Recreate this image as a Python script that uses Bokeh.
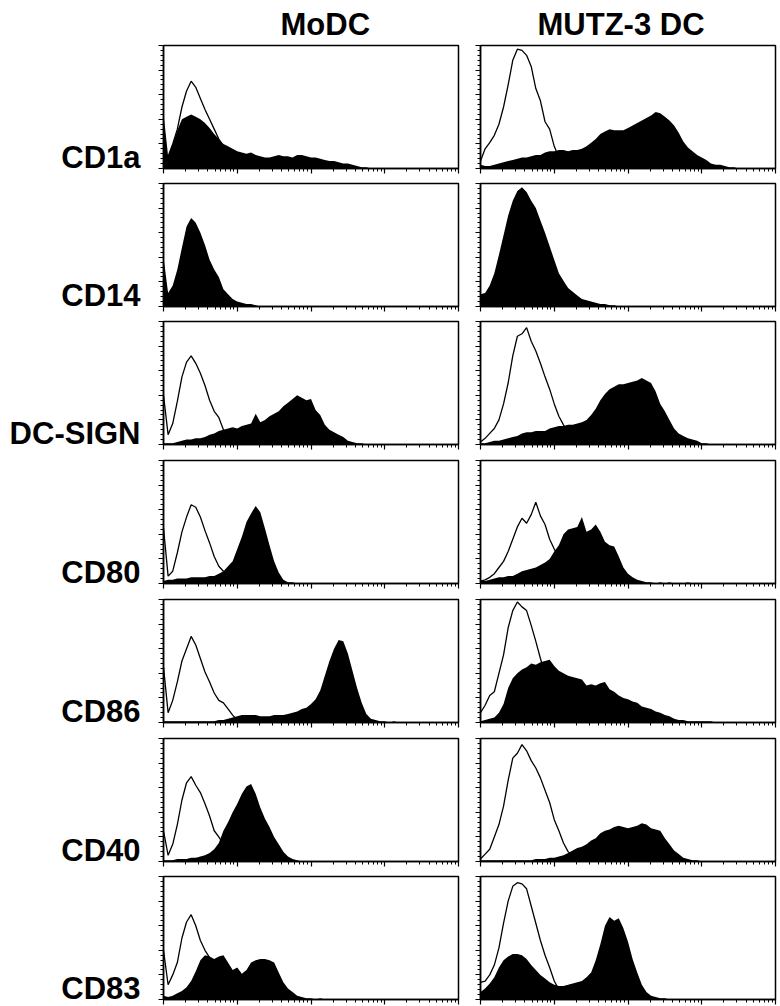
import math
from bokeh.plotting import figure
from bokeh.layouts import column, row
from bokeh.models import FixedTicker, Range1d, CustomJSTickFormatter
from bokeh.core.properties import value
from bokeh.embed import file_html
from bokeh.resources import INLINE

# ---------------- data (channel heights, % of panel height) ----------------
markers = ["CD1a", "CD14", "DC-SIGN", "CD80", "CD86", "CD40", "CD83"]
conditions = ["MoDC", "MUTZ-3 DC"]
decades = 4
bins_per_decade = 16

modc_cd1a_iso = [5, 10, 20, 32, 50, 63, 71, 66, 57, 48, 40, 32, 24, 18, 12, 8, 5, 3, 2, 1, 0]
modc_cd1a_stain = [45, 10, 20, 31, 40, 42, 44, 42, 40, 37, 33, 28, 24, 20, 18, 16, 14, 13, 12, 13, 11, 10, 9, 9, 10,
                   11, 10, 10, 9, 11, 11, 10, 9, 9, 8, 7, 6, 6, 5, 4, 4, 3, 2, 1, 1, 0]
mutz_cd1a_iso = [6, 16, 21, 27, 36, 50, 68, 88, 97, 96, 92, 83, 65, 55, 38, 32, 18, 9, 5, 2, 1, 0]
mutz_cd1a_stain = [3, 2, 2, 3, 4, 5, 6, 7, 8, 9, 9, 10, 11, 11, 13, 14, 14, 15, 15, 14, 15, 15, 16, 18, 21, 24, 28, 30,
                   32, 31, 31, 31, 33, 35, 37, 39, 41, 43, 46, 45, 42, 39, 35, 29, 22, 17, 14, 11, 9, 7, 4, 3, 3, 2, 1,
                   1, 0]

modc_cd14_iso = []
modc_cd14_stain = [40, 11, 17, 30, 48, 65, 72, 68, 60, 50, 38, 30, 24, 14, 10, 6, 4, 3, 2, 2, 1, 0]
mutz_cd14_iso = []
mutz_cd14_stain = [10, 11, 17, 27, 42, 58, 74, 86, 94, 97, 93, 86, 80, 70, 60, 49, 38, 27, 21, 15, 12, 9, 6, 5, 4, 3,
                   2, 2, 1, 1, 0]

modc_dcsign_iso = [40, 8, 17, 35, 55, 67, 72, 66, 58, 48, 36, 27, 22, 12, 8, 4, 2, 0]
modc_dcsign_stain = [1, 1, 1, 2, 3, 4, 4, 5, 5, 6, 8, 9, 11, 12, 13, 14, 13, 15, 16, 17, 25, 18, 20, 23, 25, 27, 31,
                     34, 37, 40, 38, 36, 37, 28, 24, 16, 12, 10, 8, 6, 3, 2, 1, 1, 0]
mutz_dcsign_iso = [2, 5, 9, 13, 20, 33, 50, 72, 88, 90, 95, 84, 76, 66, 55, 45, 33, 23, 16, 10, 6, 3, 2, 0]
mutz_dcsign_stain = [1, 1, 2, 3, 3, 4, 5, 6, 7, 9, 10, 10, 11, 11, 11, 13, 14, 15, 15, 16, 16, 17, 18, 20, 24, 29, 36,
                     41, 45, 47, 49, 49, 50, 51, 52, 54, 52, 50, 43, 33, 27, 20, 13, 9, 7, 5, 4, 3, 1, 1, 0]

modc_cd80_iso = [45, 6, 10, 25, 42, 54, 64, 62, 54, 43, 33, 22, 14, 10, 6, 3, 2, 0]
modc_cd80_stain = [2, 3, 3, 4, 4, 4, 5, 5, 5, 5, 6, 6, 8, 10, 14, 18, 28, 38, 50, 57, 63, 58, 45, 31, 18, 9, 3, 1, 1, 0]
mutz_cd80_iso = [2, 3, 5, 8, 13, 18, 26, 36, 46, 53, 49, 56, 66, 55, 48, 36, 28, 22, 14, 8, 4, 2, 0]
mutz_cd80_stain = [2, 2, 3, 4, 5, 5, 6, 6, 8, 10, 11, 12, 13, 15, 17, 20, 26, 31, 40, 44, 45, 46, 54, 42, 44, 48, 42,
                   34, 31, 30, 22, 13, 8, 5, 3, 2, 1, 1, 0, 1, 0, 1, 0, 0, 0, 1, 0]

modc_cd86_iso = [45, 8, 18, 33, 50, 60, 70, 63, 52, 41, 33, 24, 18, 16, 11, 6, 2, 1, 0]
modc_cd86_stain = [1, 1, 1, 1, 1, 1, 1, 1, 1, 1, 1, 1, 2, 2, 3, 4, 5, 6, 6, 6, 6, 5, 5, 5, 6, 6, 6, 7, 8, 9, 11, 12,
                   15, 19, 26, 38, 50, 60, 67, 66, 56, 42, 28, 16, 7, 3, 2, 1, 1, 0, 1, 0]
mutz_cd86_iso = [8, 14, 22, 25, 40, 55, 77, 91, 98, 94, 91, 79, 66, 52, 40, 28, 18, 10, 5, 2, 0]
mutz_cd86_stain = [1, 2, 3, 4, 8, 15, 28, 36, 40, 43, 45, 48, 47, 49, 50, 51, 46, 42, 40, 38, 37, 36, 35, 30, 31, 30,
                   32, 33, 27, 25, 22, 20, 19, 17, 16, 13, 12, 11, 9, 8, 6, 5, 3, 2, 2, 1, 1, 1, 1, 1, 1, 0]

modc_cd40_iso = [25, 5, 14, 30, 50, 64, 69, 62, 56, 47, 37, 25, 20, 14, 8, 4, 2, 0]
modc_cd40_stain = [1, 1, 1, 2, 2, 2, 3, 3, 4, 5, 7, 10, 15, 25, 32, 40, 47, 55, 61, 63, 55, 44, 35, 28, 20, 14, 8, 4,
                   2, 1, 0]
mutz_cd40_iso = [2, 6, 10, 20, 30, 45, 66, 84, 88, 95, 90, 82, 76, 68, 58, 48, 34, 25, 15, 8, 4, 2, 0]
mutz_cd40_stain = [1, 1, 1, 1, 1, 1, 1, 1, 1, 1, 1, 1, 2, 2, 2, 3, 3, 4, 5, 7, 9, 11, 12, 14, 17, 19, 23, 25, 26, 28,
                   29, 28, 27, 28, 29, 31, 30, 27, 26, 25, 19, 14, 9, 6, 3, 2, 1, 1, 0]

modc_cd83_iso = [40, 12, 20, 30, 50, 63, 69, 60, 48, 40, 34, 26, 18, 12, 7, 4, 2, 0]
modc_cd83_stain = [3, 2, 3, 5, 7, 10, 15, 23, 32, 36, 35, 33, 35, 36, 30, 24, 26, 21, 24, 30, 32, 33, 33, 32, 30, 22,
                   14, 9, 6, 3, 2, 1, 1, 0, 1, 0]
mutz_cd83_iso = [14, 15, 20, 28, 42, 62, 80, 92, 95, 94, 90, 76, 62, 48, 36, 26, 15, 8, 4, 2, 0]
mutz_cd83_stain = [6, 9, 13, 18, 26, 32, 35, 37, 37, 36, 33, 28, 24, 20, 17, 14, 12, 11, 11, 12, 13, 14, 15, 18, 22,
                   32, 45, 60, 67, 64, 66, 58, 47, 33, 22, 12, 6, 3, 2, 1, 1, 0]

table = {
    "CD1a": [(modc_cd1a_stain, modc_cd1a_iso), (mutz_cd1a_stain, mutz_cd1a_iso)],
    "CD14": [(modc_cd14_stain, modc_cd14_iso), (mutz_cd14_stain, mutz_cd14_iso)],
    "DC-SIGN": [(modc_dcsign_stain, modc_dcsign_iso), (mutz_dcsign_stain, mutz_dcsign_iso)],
    "CD80": [(modc_cd80_stain, modc_cd80_iso), (mutz_cd80_stain, mutz_cd80_iso)],
    "CD86": [(modc_cd86_stain, modc_cd86_iso), (mutz_cd86_stain, mutz_cd86_iso)],
    "CD40": [(modc_cd40_stain, modc_cd40_iso), (mutz_cd40_stain, mutz_cd40_iso)],
    "CD83": [(modc_cd83_stain, modc_cd83_iso), (mutz_cd83_stain, mutz_cd83_iso)],
}

# ---------------- layout / style ----------------
FONT = "Liberation Sans"
step = 1.0 / bins_per_decade
FRAME_H = 123
LABEL_W = 155
top_borders = [42, 9, 9, 10, 10, 10, 9]
BOTTOM = 6
row_heights = [t + FRAME_H + BOTTOM for t in top_borders]
TOTAL_H = sum(row_heights)
LABEL_H = TOTAL_H + 4


def style_axis(ax, major, minor):
    ax.ticker = FixedTicker(ticks=major, minor_ticks=minor)
    ax.formatter = CustomJSTickFormatter(code="return ''")
    ax.major_label_standoff = 0
    ax.axis_label = None
    ax.major_tick_in = 0
    ax.minor_tick_in = 0
    ax.major_tick_out = 5
    ax.minor_tick_out = 3
    ax.major_tick_line_color = "black"
    ax.minor_tick_line_color = "black"
    ax.major_tick_line_width = 1.2
    ax.minor_tick_line_width = 1.0
    ax.axis_line_color = "black"
    ax.axis_line_width = 1.5


x_major = list(range(decades + 1))
x_minor = [d + math.log10(k) for d in range(decades) for k in range(2, 10)]
y_major = [0, 20, 40, 60, 80, 100]
y_minor = list(range(0, 101, 4))


def make_panel(r, c, marker):
    stain, iso = table[marker][c]
    left = c == 0
    top = r == 0
    p = figure(frame_width=295, frame_height=FRAME_H,
               x_range=Range1d(0, decades), y_range=Range1d(0, 100),
               output_backend="svg", toolbar_location=None, tools="",
               min_border_left=8 if left else 16, min_border_right=6 if left else 5,
               min_border_top=top_borders[r], min_border_bottom=BOTTOM)
    p.background_fill_color = "white"
    p.border_fill_color = "white"
    p.outline_line_color = "black"
    p.outline_line_width = 1.5
    p.grid.visible = False
    style_axis(p.xaxis[0], x_major, x_minor)
    style_axis(p.yaxis[0], y_major, y_minor)

    xs = [i * step for i in range(len(stain))]
    p.varea(x=xs, y1=[0] * len(stain), y2=stain, fill_color="black")
    if iso:
        xi = [i * step for i in range(len(iso))]
        p.line(x=xi, y=iso, line_color="black", line_width=1.3)

    if top:
        p.title.text = conditions[c]
        p.title.align = "left"
        p.title.offset = 117 if left else 57
        p.title.text_font = FONT
        p.title.text_font_style = "bold"
        p.title.text_font_size = "31px"
        p.title.text_color = "black"
        p.title.standoff = 8
    return p


# single tall label strip holding the row names
frame_bottoms = []
acc = 0
for t, h in zip(top_borders, row_heights):
    frame_bottoms.append(acc + t + FRAME_H)
    acc += h

lab = figure(width=LABEL_W, height=LABEL_H, x_range=Range1d(0, LABEL_W), y_range=Range1d(LABEL_H, 0),
             output_backend="svg", toolbar_location=None, tools="",
             x_axis_type=None, y_axis_type=None,
             min_border_left=0, min_border_right=0, min_border_top=0, min_border_bottom=0)
lab.outline_line_color = None
lab.grid.visible = False
lab.background_fill_color = "white"
lab.border_fill_color = "white"
lab.text(x=[140] * len(markers), y=[b - 8 for b in frame_bottoms], text=markers,
         text_align="right", text_baseline="middle",
         text_font=value(FONT), text_font_style="bold", text_font_size="31px", text_color="black")

panel_rows = []
for r, m in enumerate(markers):
    panel_rows.append(row(make_panel(r, 0, m), make_panel(r, 1, m)))
layout = row(lab, column(*panel_rows))

open("out.html", "w").write(file_html(layout, INLINE))
